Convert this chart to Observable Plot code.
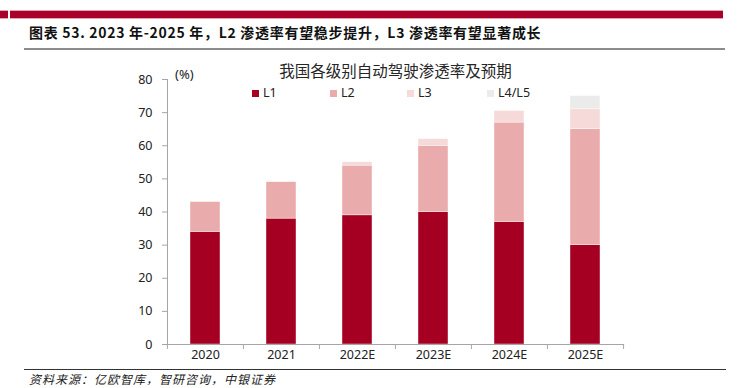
<!DOCTYPE html>
<html>
<head>
<meta charset="utf-8">
<script src="https://cdn.jsdelivr.net/npm/d3@7"></script>
<script src="https://cdn.jsdelivr.net/npm/@observablehq/plot@0.6"></script>
<style>
  html, body { margin: 0; padding: 0; background: #fff; }
  #c { position: relative; width: 741px; height: 388px; overflow: hidden; font-family: "Noto Sans", "Noto Sans CJK SC", sans-serif; }
  #c svg { position: absolute; left: 0; top: 0; }
  .abs { position: absolute; white-space: nowrap; }
  .redbar { position: absolute; top: 10px; height: 7px; background: #a8002a; border-top: 1px solid #e7a3b0; border-bottom: 1px solid #e7a3b0; }
  .head { left: 29px; top: 22px; font-family: "Noto Sans CJK SC", sans-serif; font-weight: bold; font-size: 14px; letter-spacing: 0.7px; color: #111; line-height: 20px; }
  .hline { position: absolute; left: 24px; width: 701px; top: 48px; height: 2px; background: #8c8c8c; }
  .bline { position: absolute; left: 24px; width: 702px; top: 369px; height: 1px; background: #333; }
  .src { left: 29px; top: 371px; font-family: "Noto Sans CJK SC", sans-serif; font-style: italic; font-size: 12px; letter-spacing: 1px; color: #222; line-height: 16px; }
  .ctitle { left: 395.5px; top: 60px; transform: translateX(-50%); font-family: "Noto Sans CJK SC", sans-serif; font-size: 15.5px; color: #262626; line-height: 20px; }
  .unit { left: 175px; top: 66px; font-size: 13px; color: #222; line-height: 16px; }
  .leg { top: 85px; font-size: 12.5px; color: #222; line-height: 16px; display: flex; align-items: center; }
  .sw { display: inline-block; width: 7px; height: 7px; margin-right: 4px; }
</style>
</head>
<body>
<div id="c"></div>
<script>
// ---- data ----
const years = ["2020", "2021", "2022E", "2023E", "2024E", "2025E"];
const levels = ["L1", "L2", "L3", "L4/L5"];
const L1 = [34, 38, 39, 40, 37, 30];
const L2 = [9, 11, 15, 20, 30, 35];
const L3 = [0, 0, 1, 2, 3.5, 6];
const L45 = [0, 0, 0, 0, 0, 4];
const yTicks = [0, 10, 20, 30, 40, 50, 60, 70, 80];
const colors = ["#a50021", "#e9abab", "#f6d9d9", "#ebebeb"];
const headText = "图表 53. 2023 年-2025 年，L2 渗透率有望稳步提升，L3 渗透率有望显著成长";
const chartTitle = "我国各级别自动驾驶渗透率及预期";
const unitText = "(%)";
const sourceText = "资料来源：亿欧智库，智研咨询，中银证券";

const series = [L1, L2, L3, L45];
const rows = [];
years.forEach((yr, i) => {
  series.forEach((s, k) => {
    if (s[i] > 0) rows.push({year: yr, level: levels[k], v: s[i]});
  });
});

const W = 741, H = 388, ML = 167, MR = 117, MT = 79, MB = 44;
const step = (W - ML - MR) / years.length;
const axisGray = "#a6a6a6";

const chart = Plot.plot({
  width: W, height: H,
  marginLeft: ML, marginRight: MR, marginTop: MT, marginBottom: MB,
  style: {fontFamily: "'Noto Sans', 'Noto Sans CJK SC', sans-serif", fontSize: "12px", color: "#222", background: "transparent"},
  x: {domain: years, paddingInner: 0.6, paddingOuter: 0.3},
  y: {domain: [0, 80]},
  color: {domain: levels, range: colors},
  marks: [
    Plot.barY(rows, {x: "year", y: "v", fill: "level", stroke: "#fff", strokeWidth: 0.6, strokeOpacity: 0.7}),
    Plot.frame({anchor: "left", stroke: axisGray}),
    Plot.ruleY([0], {stroke: axisGray}),
    Plot.ruleX(years, {x: d => d, y1: 0, y2: -1.5, dx: -step / 2, stroke: axisGray}),
    Plot.ruleX([years[years.length - 1]], {x: d => d, y1: 0, y2: -1.5, dx: step / 2, stroke: axisGray}),
    Plot.axisY({ticks: yTicks, tickSize: 5, tickPadding: 10, stroke: axisGray, fill: "#222", label: null, fontSize: 12.5, tickFormat: d => d}),
    Plot.axisX({tickSize: 0, tickPadding: 6, label: null, fill: "#222", fontSize: 12.5})
  ]
});

const c = document.getElementById("c");
c.appendChild(chart);

function add(cls, html, style) {
  const d = document.createElement("div");
  d.className = cls;
  if (html != null) d.innerHTML = html;
  if (style) Object.assign(d.style, style);
  c.appendChild(d);
  return d;
}
add("redbar", null, {left: "0px", width: "8px"});
add("redbar", null, {left: "10px", width: "713px"});
add("abs head", headText);
add("hline");
add("abs ctitle", chartTitle);
add("abs unit", unitText);
const legX = [252, 330, 407, 487];
levels.forEach((l, i) => {
  add("abs leg", `<span class="sw" style="background:${colors[i]}"></span>${l}`, {left: legX[i] + "px"});
});
add("bline");
add("abs src", sourceText);
</script>
</body>
</html>
